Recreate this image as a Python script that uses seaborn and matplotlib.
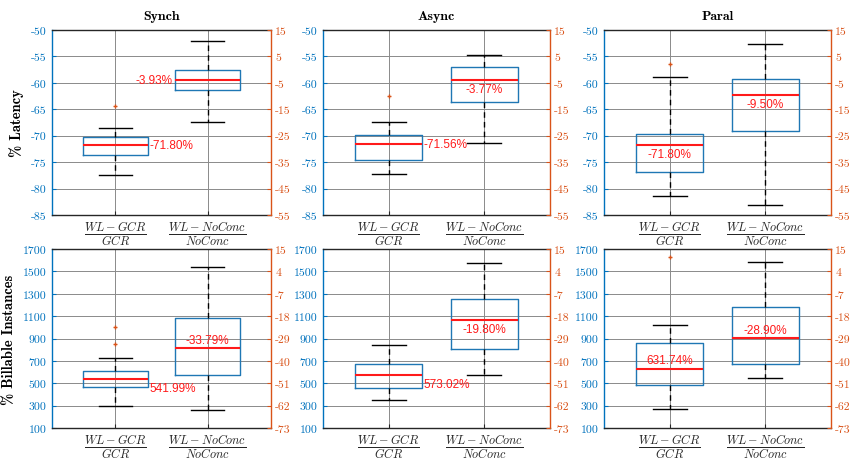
import matplotlib
matplotlib.use("Agg")
import matplotlib.pyplot as plt
import numpy as np
import pandas as pd
import seaborn as sns

# panels and the two ratios shown in each
panels = ["Synch", "Async", "Paral"]
ratios = [r"$\frac{WL-GCR}{GCR}$", r"$\frac{WL-NoConc}{NoConc}$"]

# box summaries, one per panel:
# [whisker low, q1, median, q3, whisker high]
lat_gcr = [[-77.45, -73.73, -71.80, -70.33, -68.57],
           [-77.26, -74.68, -71.56, -69.95, -67.44],
           [-81.41, -76.94, -71.80, -69.70, -58.81]]
lat_noconc = [[-19.75, -7.79, -3.93, -0.11, 10.97],
              [-27.80, -12.32, -3.77, 1.15, 5.43],
              [-51.10, -23.40, -9.50, -3.38, 9.59]]
bill_gcr = [[293, 466, 541.99, 611, 730],
            [350, 454, 573.02, 674, 840],
            [270, 484, 631.74, 861, 1025]]
bill_noconc = [[-64.16, -47.15, -33.79, -18.69, 6.17],
               [-47.15, -34.07, -19.80, -9.37, 8.13],
               [-48.30, -41.59, -28.90, -13.62, 8.78]]

# outliers (only the GCR ratio has any)
lat_gcr_out = [[-64.41], [-62.40], [-56.36]]
bill_gcr_out = [[1004, 855], [], [1629]]

# axis ticks
lat_left_ticks = [-85, -80, -75, -70, -65, -60, -55, -50]
lat_right_ticks = [-55, -45, -35, -25, -15, -5, 5, 15]
bill_left_ticks = [100, 300, 500, 700, 900, 1100, 1300, 1500, 1700]
bill_right_ticks = [-73, -62, -51, -40, -29, -18, -7, 4, 15]

# where the red median label sits: (side, vertical offset in points)
lat_lab = [[("left", 0), ("right", 0)],
           [("left", 0), ("center", -6.5)],
           [("center", -6.5), ("center", -6.5)]]
bill_lab = [[("left", -6.5), ("center", 6)],
            [("left", -6.5), ("center", -6.5)],
            [("center", 6), ("center", 6)]]

BLUE = "#0072BD"
ORANGE = "#D95319"
RED = "#FF1A1A"
WIDTH = 0.7

plt.rcParams["mathtext.fontset"] = "cm"
plt.rcParams["font.family"] = "cmr10"
plt.rcParams["axes.formatter.use_mathtext"] = True


def draw_box(ax, vals, outs, slot, lab):
    df = pd.DataFrame({"ratio": ratios[slot], "value": vals})
    sns.boxplot(data=df, x="ratio", y="value", order=ratios, ax=ax,
                whis=(0, 100), width=WIDTH, fill=False, linecolor=BLUE,
                linewidth=1, showfliers=False,
                whiskerprops=dict(color="black", linestyle=(0, (4, 3))),
                capprops=dict(color="black"),
                medianprops=dict(color=RED, linewidth=1.5))
    if outs:
        odf = pd.DataFrame({"ratio": ratios[slot], "value": outs})
        ax.plot([slot] * len(odf), odf["value"], "+", color=ORANGE,
                ms=3.5, mew=1, zorder=3)
    med = np.median(vals)
    side, dy = lab
    if side == "left":
        x, dx = slot + WIDTH / 2, 1
    elif side == "right":
        x, dx = slot - WIDTH / 2, -2
    else:
        x, dx = slot, 0
    ax.annotate(f"{med:.2f}%", (x, med), xytext=(dx, dy),
                textcoords="offset points", ha=side, va="center",
                color=RED, fontsize=8.5, family="Liberation Sans", zorder=5)
    ax.set_xlabel("")
    ax.set_ylabel("")


fig = plt.figure(figsize=(8.56, 4.6), dpi=100)
W, H = 856, 460
cols = [(52, 219), (323, 227), (604, 227)]
rows = [(31, 216), (250, 429)]

metrics = [
    (lat_gcr, lat_noconc, lat_gcr_out, lat_left_ticks, lat_right_ticks, lat_lab, "% Latency"),
    (bill_gcr, bill_noconc, bill_gcr_out, bill_left_ticks, bill_right_ticks, bill_lab, "% Billable Instances"),
]

for r, (gcr, noconc, gout, lt, rt, labs, ylab) in enumerate(metrics):
    top, bot = rows[r]
    for c, name in enumerate(panels):
        left, width = cols[c]
        ax = fig.add_axes([left / W, 1 - bot / H, width / W, (bot - top) / H])
        ax2 = ax.twinx()
        draw_box(ax, gcr[c], gout[c], 0, labs[c][0])
        draw_box(ax2, noconc[c], [], 1, labs[c][1])

        ax.set_ylim(lt[0], lt[-1])
        ax.set_yticks(lt, [str(t) for t in lt])
        ax2.set_ylim(rt[0], rt[-1])
        ax2.set_yticks(rt, [str(t) for t in rt])
        ax.set_xlim(-0.69, 1.69)
        ax.set_xticks([0, 1], ratios)

        ax.grid(True, color="#8a8a8a", linewidth=0.7)
        ax.set_axisbelow(True)

        ax.tick_params(axis="y", direction="in", length=3, colors=BLUE,
                       labelsize=8.5, pad=4)
        ax.tick_params(axis="x", direction="in", length=3, colors="#262626",
                       labelsize=12.5, pad=3)
        ax2.tick_params(axis="y", direction="in", length=3, colors=ORANGE,
                        labelsize=8.5, pad=3)
        ax.spines["left"].set_color(BLUE)
        ax.spines["right"].set_visible(False)
        for s in ["top", "bottom"]:
            ax.spines[s].set_color("#262626")
            ax2.spines[s].set_visible(False)
        ax2.spines["left"].set_visible(False)
        ax2.spines["right"].set_color(ORANGE)
        for sp in list(ax.spines.values()) + list(ax2.spines.values()):
            sp.set_linewidth(1)

        if r == 0:
            ax.set_title(name, family="cmb10", fontsize=10, pad=8)
        if c == 0:
            ax.set_ylabel(ylab, family="cmb10", fontsize=10.5, labelpad=5)

fig.savefig("out.png", dpi=100)
